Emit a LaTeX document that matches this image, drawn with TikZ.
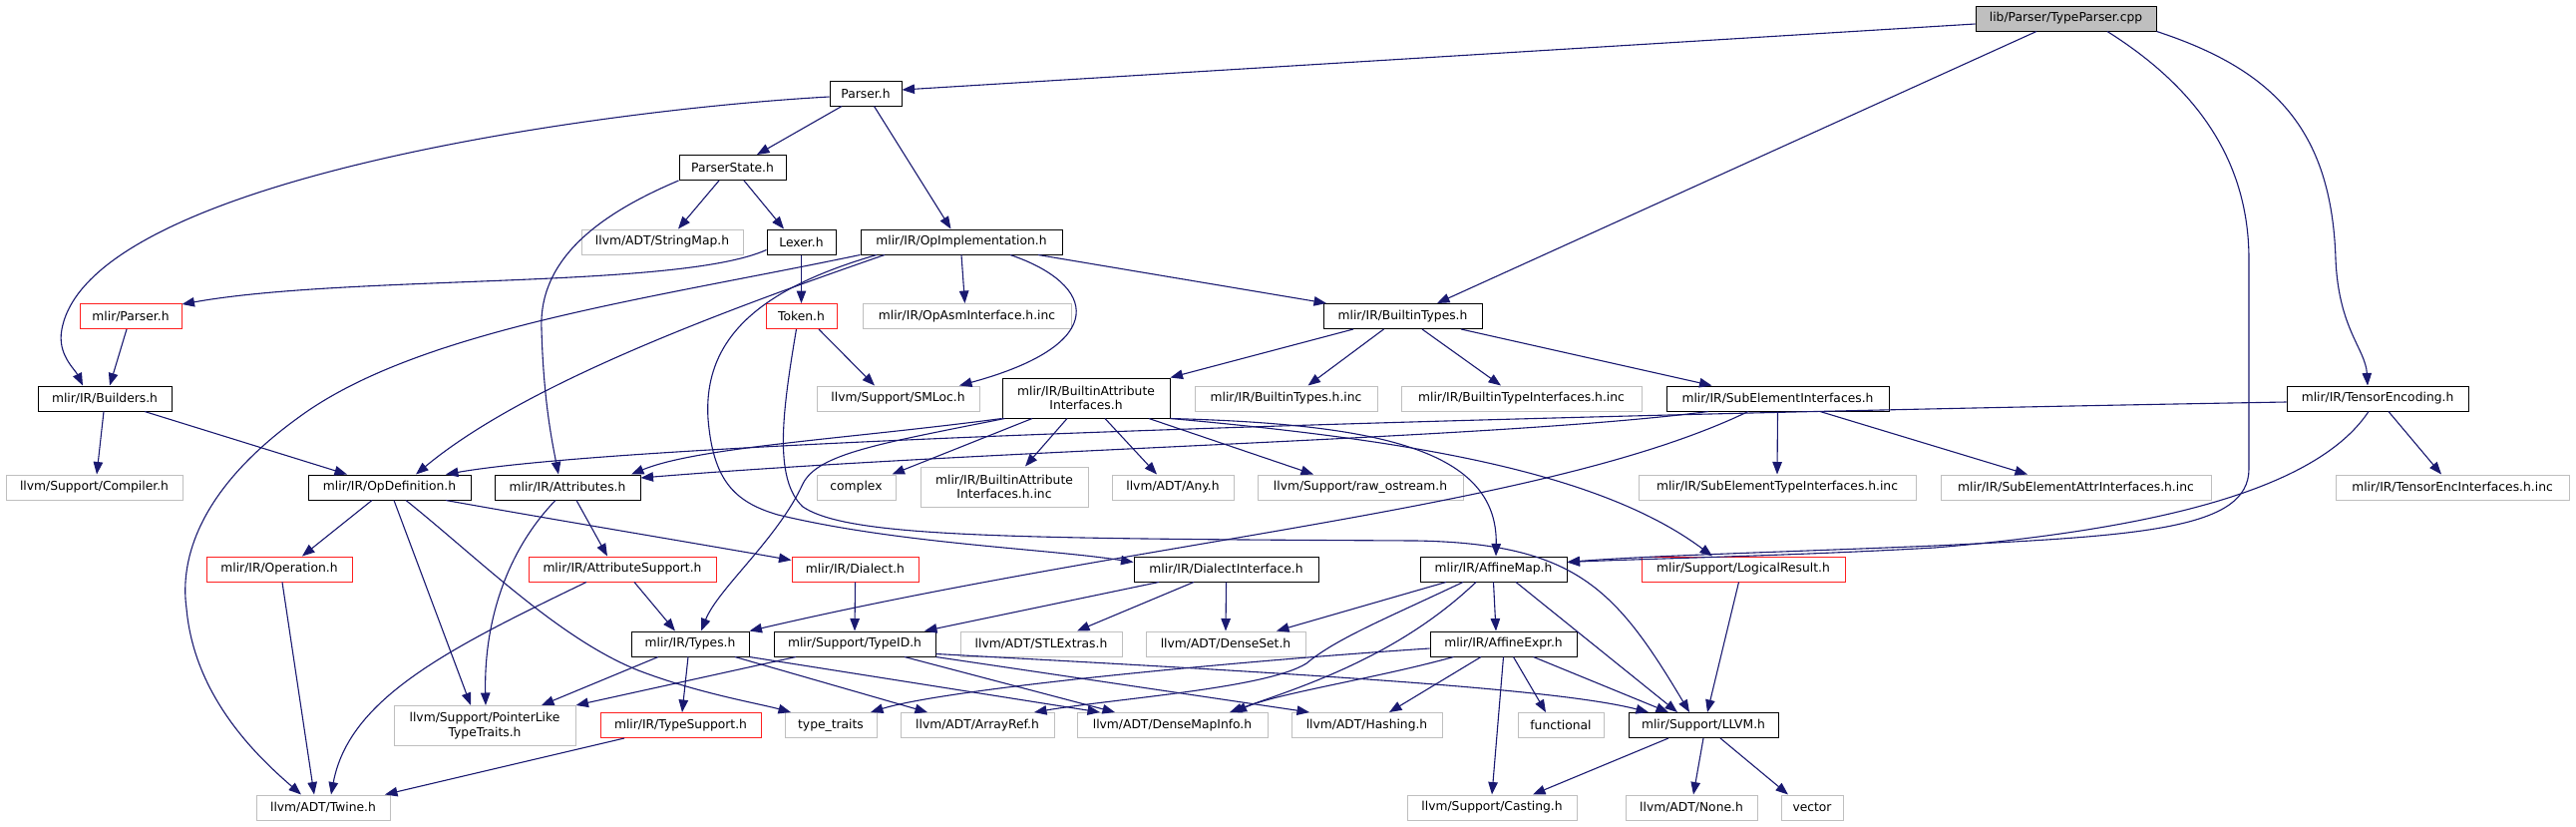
\documentclass[tikz,border=0pt]{standalone}
\usepackage{fontspec}
\setmainfont{DejaVu Sans}
\usetikzlibrary{arrows.meta}
\definecolor{edgec}{HTML}{191970}
\definecolor{grayb}{HTML}{BFBFBF}
\definecolor{rootf}{HTML}{BFBFBF}
\definecolor{redb}{HTML}{FF2020}
\begin{document}
\begin{tikzpicture}[x=1pt,y=-1pt,
 box/.style={draw, rectangle, inner sep=0pt, minimum height=25pt, font=\fontsize{12.3}{14.3}\selectfont, align=center, line width=1pt},
 nbox/.style={box, draw=black, fill=white},
 gbox/.style={box, draw=grayb, fill=white, line width=1pt},
 rbox/.style={box, draw=redb, fill=white},
 rootbox/.style={box, draw=black, fill=rootf},
 tall/.style={minimum height=40pt},
 dep/.style={draw=edgec, line width=1.1pt, -{Triangle[length=12.5pt,width=9.5pt]}}
]
\fill[white] (0,0) rectangle (2583,828);
\useasboundingbox (0,0) rectangle (2583,828);

% nodes
\node[rootbox, minimum width=181pt] (root) at (2071.5,18.5) {lib/Parser/TypeParser.cpp};
\node[nbox, minimum width=72pt] (parser) at (868,93.5) {Parser.h};
\node[nbox, minimum width=107pt] (pstate) at (734.5,168) {ParserState.h};
\node[gbox, minimum width=162pt] (smap) at (664,242.5) {llvm/ADT/StringMap.h};
\node[nbox, minimum width=69pt] (lexer) at (803.5,242.5) {Lexer.h};
\node[nbox, minimum width=202pt] (opimpl) at (964,242.5) {mlir/IR/OpImplementation.h};
\node[rbox, minimum width=102pt] (mparser) at (131,317) {mlir/Parser.h};
\node[rbox, minimum width=71pt] (token) at (803.5,317) {Token.h};
\node[gbox, minimum width=209pt] (opasm) at (969.5,317) {mlir/IR/OpAsmInterface.h.inc};
\node[nbox, minimum width=159pt] (btypes) at (1406.5,317) {mlir/IR/BuiltinTypes.h};
\node[nbox, minimum width=134pt] (builders) at (105,399.5) {mlir/IR/Builders.h};
\node[gbox, minimum width=163pt] (smloc) at (900.5,399.5) {llvm/Support/SMLoc.h};
\node[nbox, tall, minimum width=168pt] (bai) at (1089,399) {mlir/IR/BuiltinAttribute\\Interfaces.h};
\node[gbox, minimum width=183pt] (btinc) at (1289.5,399.5) {mlir/IR/BuiltinTypes.h.inc};
\node[gbox, minimum width=241pt] (btiinc) at (1525.5,399.5) {mlir/IR/BuiltinTypeInterfaces.h.inc};
\node[nbox, minimum width=223pt] (sei) at (1782.5,399.5) {mlir/IR/SubElementInterfaces.h};
\node[nbox, minimum width=182pt] (tenc) at (2384,399.5) {mlir/IR/TensorEncoding.h};
\node[gbox, minimum width=177pt] (compiler) at (94.5,488.5) {llvm/Support/Compiler.h};
\node[nbox, minimum width=163pt] (opdef) at (390.5,488.5) {mlir/IR/OpDefinition.h};
\node[nbox, minimum width=146pt] (attrs) at (569,488.5) {mlir/IR/Attributes.h};
\node[gbox, minimum width=79pt] (complex) at (858.5,488.5) {complex};
\node[gbox, tall, minimum width=168pt] (baiinc) at (1007,488) {mlir/IR/BuiltinAttribute\\Interfaces.h.inc};
\node[gbox, minimum width=122pt] (any) at (1176,488.5) {llvm/ADT/Any.h};
\node[gbox, minimum width=206pt] (rawos) at (1364,488.5) {llvm/Support/raw\_ostream.h};
\node[gbox, minimum width=278pt] (setinc) at (1782,488.5) {mlir/IR/SubElementTypeInterfaces.h.inc};
\node[gbox, minimum width=271pt] (seainc) at (2081.5,488.5) {mlir/IR/SubElementAttrInterfaces.h.inc};
\node[gbox, minimum width=234pt] (teinc) at (2459,488.5) {mlir/IR/TensorEncInterfaces.h.inc};
\node[rbox, minimum width=146pt] (operation) at (280,570.5) {mlir/IR/Operation.h};
\node[rbox, minimum width=188pt] (attrsup) at (624,570.5) {mlir/IR/AttributeSupport.h};
\node[rbox, minimum width=127pt] (dialect) at (857.5,570.5) {mlir/IR/Dialect.h};
\node[nbox, minimum width=185pt] (dialint) at (1229.5,570.5) {mlir/IR/DialectInterface.h};
\node[nbox, minimum width=147pt] (affmap) at (1497.5,570.5) {mlir/IR/AffineMap.h};
\node[rbox, minimum width=204pt] (logres) at (1748,570.5) {mlir/Support/LogicalResult.h};
\node[nbox, minimum width=118pt] (types) at (692,645.5) {mlir/IR/Types.h};
\node[nbox, minimum width=162pt] (typeid) at (857,645.5) {mlir/Support/TypeID.h};
\node[gbox, minimum width=162pt] (stlext) at (1044,645.5) {llvm/ADT/STLExtras.h};
\node[gbox, minimum width=160pt] (denseset) at (1229,645.5) {llvm/ADT/DenseSet.h};
\node[nbox, minimum width=147pt] (affexpr) at (1507.5,645.5) {mlir/IR/AffineExpr.h};
\node[gbox, tall, minimum width=182pt] (ptrlike) at (486,727.5) {llvm/Support/PointerLike\\TypeTraits.h};
\node[rbox, minimum width=161pt] (typesup) at (682.5,727) {mlir/IR/TypeSupport.h};
\node[gbox, minimum width=92pt] (typetraits) at (833,727) {type\_traits};
\node[gbox, minimum width=154pt] (arrayref) at (980,727) {llvm/ADT/ArrayRef.h};
\node[gbox, minimum width=191pt] (dmi) at (1175.5,727) {llvm/ADT/DenseMapInfo.h};
\node[gbox, minimum width=151pt] (hashing) at (1370.5,727) {llvm/ADT/Hashing.h};
\node[gbox, minimum width=86pt] (functional) at (1565,727) {functional};
\node[nbox, minimum width=150pt] (llvm) at (1708,727) {mlir/Support/LLVM.h};
\node[gbox, minimum width=134pt] (twine) at (324,809.5) {llvm/ADT/Twine.h};
\node[gbox, minimum width=170pt] (casting) at (1496,809.5) {llvm/Support/Casting.h};
\node[gbox, minimum width=132pt] (none) at (1696,809.5) {llvm/ADT/None.h};
\node[gbox, minimum width=62pt] (vector) at (1817,809.5) {vector};

% edges: root
\draw[dep] ([yshift=-5.5pt]root.west) -- ([yshift=3.5pt]parser.east);
\draw[dep] ([xshift=-29.5pt]root.south) -- ([xshift=34.5pt]btypes.north);
\draw[dep] ([xshift=41.5pt]root.south) .. controls (2190,80) and (2255,150) .. (2255,260) -- (2255,470) .. controls (2255,530) and (2150,537) .. (1940,547) .. controls (1800,553) and (1650,557) .. ([yshift=7pt]affmap.east);
\draw[dep] (root.south east) .. controls (2280,70) and (2338,130) .. (2342,260) .. controls (2345,330) and (2372,350) .. ([xshift=-10pt]tenc.north);
% parser
\draw[dep] ([xshift=-24pt]parser.south) -- ([xshift=24.5pt]pstate.north);
\draw[dep] ([xshift=8.5pt]parser.south) -- ([xshift=-10.5pt]opimpl.north);
\draw[dep] ([yshift=-3.5pt]parser.west) .. controls (600,110) and (90,180) .. (62,330) .. controls (57,355) and (75,370) .. ([xshift=-22pt]builders.north);
% parser state
\draw[dep] ([xshift=-13.5pt]pstate.south) -- ([xshift=16pt]smap.north);
\draw[dep] ([xshift=11.5pt]pstate.south) -- ([xshift=-17.5pt]lexer.north);
\draw[dep] (pstate.south west) .. controls (600,215) and (540,260) .. (543,330) .. controls (545,400) and (553,440) .. ([xshift=-9pt]attrs.north);
% lexer
\draw[dep] ([yshift=-8pt]lexer.west) .. controls (680,290) and (350,275) .. ([yshift=12pt]mparser.east);
\draw[dep] (lexer.south) -- (token.north);
% token
\draw[dep] ([xshift=17.5pt]token.south) -- ([xshift=-23.5pt]smloc.north);
\draw[dep] ([xshift=-5pt]token.south) .. controls (785,410) and (775,480) .. (805,508) .. controls (850,538) and (1000,540) .. (1420,542) .. controls (1580,545) and (1620,590) .. ([xshift=-14pt]llvm.north);
% op implementation
\draw[dep] (opimpl.south) -- ([xshift=-2pt]opasm.north);
\draw[dep] ([xshift=49pt]opimpl.south) .. controls (1100,285) and (1115,345) .. ([xshift=61.5pt]smloc.north);
\draw[dep] ([xshift=77pt]opimpl.south) -- ([xshift=-76.5pt]btypes.north);
\draw[dep] ([xshift=-77pt]opimpl.south) .. controls (700,320) and (520,390) .. ([xshift=26.5pt]opdef.north);
\draw[dep] (opimpl.south west) .. controls (650,300) and (420,330) .. (300,418) .. controls (200,490) and (180,560) .. (187,610) .. controls (195,700) and (260,760) .. ([xshift=-22pt]twine.north);
\draw[dep] ([xshift=-85pt]opimpl.south) .. controls (760,290) and (705,340) .. (710,420) .. controls (715,480) and (735,503) .. (780,516) .. controls (900,545) and (1050,550) .. ([yshift=7pt]dialint.west);
% builders
\draw[dep] ([xshift=-1pt]builders.south) -- ([xshift=2.5pt]compiler.north);
\draw[dep] ([xshift=40pt]builders.south) -- ([xshift=-42.5pt]opdef.north);
\draw[dep] ([xshift=-4pt]mparser.south) -- ([xshift=5pt]builders.north);
% builtin types
\draw[dep] ([xshift=-49.5pt]btypes.south) -- (bai.north east);
\draw[dep] ([xshift=-19pt]btypes.south) -- ([xshift=22pt]btinc.north);
\draw[dep] ([xshift=19.5pt]btypes.south) -- ([xshift=-20.5pt]btiinc.north);
\draw[dep] ([xshift=58.5pt]btypes.south) -- ([xshift=-66pt]sei.north);
% builtin attribute interfaces
\draw[dep] (bai.south west) .. controls (850,440) and (700,448) .. ([xshift=64pt]attrs.north);
\draw[dep] ([xshift=3pt]bai.south west) .. controls (880,445) and (820,455) .. (805,485) .. controls (780,540) and (720,590) .. ([xshift=11pt]types.north);
\draw[dep] ([xshift=-54pt]bai.south) -- ([xshift=36pt]complex.north);
\draw[dep] ([xshift=-19pt]bai.south) -- ([xshift=21pt]baiinc.north);
\draw[dep] ([xshift=19pt]bai.south) -- ([xshift=-16pt]any.north);
\draw[dep] ([xshift=63pt]bai.south) -- ([xshift=-47pt]rawos.north);
\draw[dep] (bai.south east) .. controls (1380,425) and (1502,450) .. ([xshift=2.5pt]affmap.north);
\draw[dep] (bai.south east) .. controls (1400,440) and (1600,470) .. ([xshift=-31pt]logres.north);
% sub element interfaces
\draw[dep] ([xshift=-69.5pt]sei.south) .. controls (1500,440) and (1000,450) .. ([yshift=9.5pt]attrs.east);
\draw[dep] ([xshift=-29.5pt]sei.south) .. controls (1550,510) and (1150,540) .. (types.north east);
\draw[dep] (sei.south) -- (setinc.north);
\draw[dep] ([xshift=42.5pt]sei.south) -- ([xshift=-48.5pt]seainc.north);
% tensor encoding
\draw[dep] ([yshift=-3.5pt]tenc.west) .. controls (1600,415) and (650,440) .. ([xshift=56.5pt]opdef.north);
\draw[dep] ([xshift=-9pt]tenc.south) .. controls (2330,480) and (2200,527) .. (1940,549) .. controls (1800,557) and (1650,560) .. ([yshift=7pt]affmap.east);
\draw[dep] ([xshift=11pt]tenc.south) -- ([xshift=-11pt]teinc.north);
% op definition
\draw[dep] ([xshift=-17.5pt]opdef.south) -- ([xshift=23pt]operation.north);
\draw[dep] ([xshift=4.5pt]opdef.south) -- ([xshift=-14pt]ptrlike.north);
\draw[dep] ([xshift=16.5pt]opdef.south) .. controls (480,560) and (560,640) .. (640,672) .. controls (700,695) and (760,705) .. ([xshift=-40pt]typetraits.north);
\draw[dep] ([xshift=56.5pt]opdef.south) .. controls (550,520) and (700,545) .. ([yshift=-4pt]dialect.north west);
% attributes
\draw[dep] ([xshift=9pt]attrs.south) -- ([xshift=-15pt]attrsup.north);
\draw[dep] ([xshift=-12pt]attrs.south) .. controls (510,550) and (485,620) .. ([xshift=1pt]ptrlike.north);
\draw[dep] ([xshift=12pt]attrsup.south) -- ([xshift=-15pt]types.north);
\draw[dep] ([xshift=-36pt]attrsup.south) .. controls (450,650) and (350,700) .. ([xshift=8pt]twine.north);
\draw[dep] ([xshift=3pt]operation.south) -- ([xshift=-9pt]twine.north);
% dialect
\draw[dep] (dialect.south) -- (typeid.north);
\draw[dep] ([xshift=-67.5pt]dialint.south) -- ([xshift=70pt]typeid.north);
\draw[dep] ([xshift=-32.5pt]dialint.south) -- ([xshift=36pt]stlext.north);
\draw[dep] (dialint.south) -- (denseset.north);
% affine map
\draw[dep] ([xshift=-47.5pt]affmap.south) -- ([xshift=51pt]denseset.north);
\draw[dep] ([xshift=-30.5pt]affmap.south) .. controls (1390,620) and (1340,640) .. (1310,665) .. controls (1270,690) and (1120,700) .. ([xshift=57pt]arrayref.north);
\draw[dep] ([xshift=-17.5pt]affmap.south) .. controls (1400,660) and (1300,690) .. ([xshift=57.5pt]dmi.north);
\draw[dep] (affmap.south) -- ([xshift=-7.5pt]affexpr.north);
\draw[dep] ([xshift=22.5pt]affmap.south) -- ([xshift=-26pt]llvm.north);
% affine expr
\draw[dep] ([yshift=-4.5pt]affexpr.west) .. controls (1250,662) and (950,690) .. ([xshift=40pt]typetraits.north);
\draw[dep] ([xshift=-50pt]affexpr.south) .. controls (1380,680) and (1280,695) .. ([xshift=62pt]dmi.north);
\draw[dep] ([xshift=-22.5pt]affexpr.south) -- ([xshift=22.5pt]hashing.north);
\draw[dep] (affexpr.south) -- (casting.north);
\draw[dep] ([xshift=10pt]affexpr.south) -- ([xshift=-15pt]functional.north);
\draw[dep] ([xshift=30pt]affexpr.south) -- ([xshift=-35pt]llvm.north);
\draw[dep] ([xshift=-4.5pt]logres.south) -- ([xshift=4pt]llvm.north);
% types
\draw[dep] ([xshift=-32pt]types.south) -- ([xshift=57pt]ptrlike.north);
\draw[dep] ([xshift=-2pt]types.south) -- ([xshift=1.5pt]typesup.north);
\draw[dep] ([xshift=45pt]types.south) -- ([xshift=-50pt]arrayref.north);
\draw[dep] (types.south east) -- ([xshift=-72.5pt]dmi.north);
% type id
\draw[dep] ([xshift=-59pt]typeid.south) -- (ptrlike.north east);
\draw[dep] ([xshift=50pt]typeid.south) -- ([xshift=-57.5pt]dmi.north);
\draw[dep] (typeid.south east) -- ([xshift=-57.5pt]hashing.north);
\draw[dep] ([yshift=3pt]typeid.south east) .. controls (1300,675) and (1560,690) .. ([xshift=-55pt]llvm.north);
\draw[dep] ([xshift=-56.5pt]typesup.south) -- ([xshift=62pt]twine.north);
% llvm
\draw[dep] ([xshift=-35pt]llvm.south) -- ([xshift=41pt]casting.north);
\draw[dep] (llvm.south) -- ([xshift=2pt]none.north);
\draw[dep] ([xshift=17pt]llvm.south) -- ([xshift=-24pt]vector.north);
\end{tikzpicture}
\end{document}
